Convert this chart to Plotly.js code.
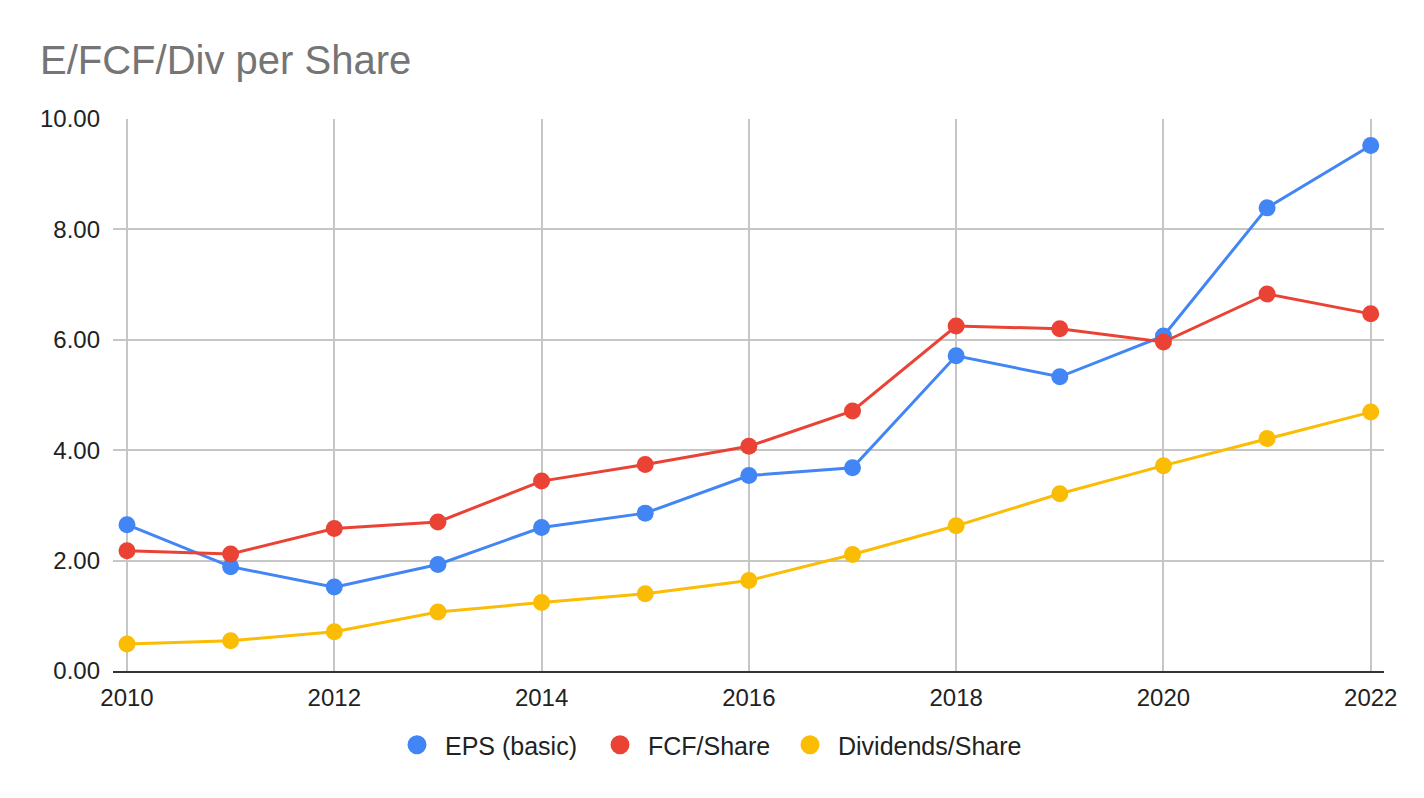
<!DOCTYPE html>
<html>
<head>
<meta charset="utf-8">
<script src="https://cdn.plot.ly/plotly-3.0.1.min.js"></script>
<style>
  html, body { margin: 0; padding: 0; background: #ffffff; }
  #chart { width: 1424px; height: 798px; }
</style>
</head>
<body>
<div id="chart"></div>
<script>
const years = [2010, 2011, 2012, 2013, 2014, 2015, 2016, 2017, 2018, 2019, 2020, 2021, 2022];
const epsBasic = [2.65, 1.89, 1.52, 1.93, 2.60, 2.86, 3.54, 3.68, 5.71, 5.33, 6.07, 8.39, 9.52];
const fcfPerShare = [2.18, 2.12, 2.58, 2.70, 3.44, 3.74, 4.07, 4.71, 6.25, 6.20, 5.96, 6.83, 6.47];
const dividendsPerShare = [0.49, 0.55, 0.71, 1.07, 1.24, 1.40, 1.64, 2.11, 2.63, 3.21, 3.72, 4.21, 4.69];
const seriesNames = ['EPS (basic)', 'FCF/Share', 'Dividends/Share'];
const seriesColors = ['#4285F4', '#EA4335', '#FBBC04'];
const yTickVals = [0, 2, 4, 6, 8, 10];
const yTickText = ['0.00', '2.00', '4.00', '6.00', '8.00', '10.00'];

const seriesValues = [epsBasic, fcfPerShare, dividendsPerShare];
const legendWidths = [142, 129, 180];
const traces = [];
seriesValues.forEach(function (vals, i) {
  traces.push({
    type: 'scatter',
    mode: 'lines+markers',
    x: years,
    y: vals,
    name: seriesNames[i],
    legendgroup: 'g' + i,
    showlegend: false,
    line: { color: seriesColors[i], width: 3 },
    marker: { color: seriesColors[i], size: 17 },
    hoverinfo: 'x+y+name'
  });
});
// legend entries (marker-only symbols)
seriesValues.forEach(function (vals, i) {
  traces.push({
    type: 'scatter',
    mode: 'markers',
    x: [null],
    y: [null],
    name: seriesNames[i],
    legendgroup: 'g' + i,
    legendwidth: legendWidths[i],
    showlegend: true,
    marker: { color: seriesColors[i], size: 16, line: { color: seriesColors[i], width: 3 } }
  });
});

const layout = {
  width: 1424,
  height: 798,
  paper_bgcolor: '#ffffff',
  plot_bgcolor: '#ffffff',
  margin: { l: 113, r: 40, t: 119, b: 127, pad: 0 },
  font: { family: 'Arial, "Liberation Sans", sans-serif', color: '#222222', size: 24 },
  title: {
    text: 'E/FCF/Div per Share',
    font: { family: 'Arial, "Liberation Sans", sans-serif', size: 40, color: '#757575' },
    x: 40 / 1424,
    xanchor: 'left',
    y: 1 - 60 / 798,
    yanchor: 'middle'
  },
  xaxis: {
    range: [2009.865, 2022.128],
    tickmode: 'linear',
    tick0: 2010,
    dtick: 2,
    tickformat: 'd',
    showgrid: true,
    gridcolor: '#c6c6c6',
    gridwidth: 1.5,
    zeroline: false,
    showline: true,
    linecolor: '#333333',
    linewidth: 2,
    ticks: '',
    ticklabelstandoff: 4,
    tickfont: { size: 24, color: '#222222' },
    fixedrange: true
  },
  yaxis: {
    range: [0, 10],
    tickmode: 'array',
    tickvals: yTickVals,
    ticktext: yTickText,
    showgrid: true,
    gridcolor: '#c6c6c6',
    gridwidth: 1.5,
    zeroline: false,
    showline: false,
    ticks: '',
    ticklabelstandoff: 12,
    tickfont: { size: 24, color: '#222222' },
    fixedrange: true
  },
  showlegend: true,
  legend: {
    orientation: 'h',
    x: (389 - 113) / 1271,
    xanchor: 'left',
    y: -(745 - 671) / 552,
    yanchor: 'middle',
    font: { family: 'Arial, "Liberation Sans", sans-serif', size: 25, color: '#222222' },
    itemwidth: 46,
    traceorder: 'normal',
    bgcolor: 'rgba(0,0,0,0)'
  },
  hovermode: 'closest'
};

Plotly.newPlot('chart', traces, layout, { displayModeBar: false, staticPlot: false, responsive: false });
</script>
</body>
</html>
